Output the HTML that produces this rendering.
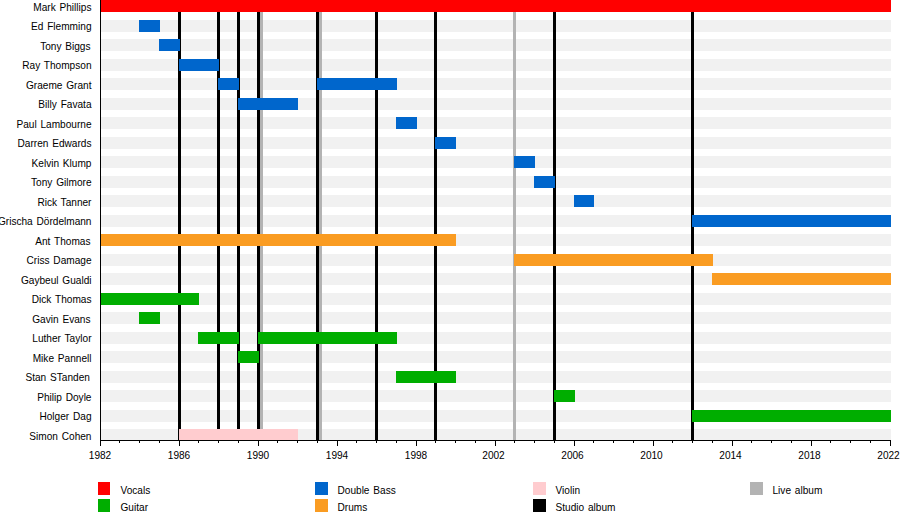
<!DOCTYPE html><html><head><meta charset="utf-8"><style>html,body{margin:0;padding:0;background:#fff;width:900px;height:530px;overflow:hidden}svg{display:block}text{font-family:"Liberation Sans",sans-serif;fill:#000;word-spacing:1px}</style></head><body>
<svg width="900" height="530" viewBox="0 0 900 530">
<rect width="900" height="530" fill="#fff"/>
<rect x="100" y="0" width="791" height="12" fill="#f1f1f1"/>
<rect x="100" y="20" width="791" height="12" fill="#f1f1f1"/>
<rect x="100" y="39" width="791" height="12" fill="#f1f1f1"/>
<rect x="100" y="59" width="791" height="12" fill="#f1f1f1"/>
<rect x="100" y="78" width="791" height="12" fill="#f1f1f1"/>
<rect x="100" y="98" width="791" height="12" fill="#f1f1f1"/>
<rect x="100" y="117" width="791" height="12" fill="#f1f1f1"/>
<rect x="100" y="137" width="791" height="12" fill="#f1f1f1"/>
<rect x="100" y="156" width="791" height="12" fill="#f1f1f1"/>
<rect x="100" y="176" width="791" height="12" fill="#f1f1f1"/>
<rect x="100" y="195" width="791" height="12" fill="#f1f1f1"/>
<rect x="100" y="215" width="791" height="12" fill="#f1f1f1"/>
<rect x="100" y="234" width="791" height="12" fill="#f1f1f1"/>
<rect x="100" y="254" width="791" height="12" fill="#f1f1f1"/>
<rect x="100" y="273" width="791" height="12" fill="#f1f1f1"/>
<rect x="100" y="293" width="791" height="12" fill="#f1f1f1"/>
<rect x="100" y="312" width="791" height="12" fill="#f1f1f1"/>
<rect x="100" y="332" width="791" height="12" fill="#f1f1f1"/>
<rect x="100" y="351" width="791" height="12" fill="#f1f1f1"/>
<rect x="100" y="371" width="791" height="12" fill="#f1f1f1"/>
<rect x="100" y="390" width="791" height="12" fill="#f1f1f1"/>
<rect x="100" y="410" width="791" height="12" fill="#f1f1f1"/>
<rect x="100" y="429" width="791" height="12" fill="#f1f1f1"/>
<rect x="178" y="0" width="3" height="440" fill="#000"/>
<rect x="217" y="0" width="3" height="440" fill="#000"/>
<rect x="237" y="0" width="3" height="440" fill="#000"/>
<rect x="257" y="0" width="3" height="440" fill="#000"/>
<rect x="316" y="0" width="3" height="440" fill="#000"/>
<rect x="375" y="0" width="3" height="440" fill="#000"/>
<rect x="434" y="0" width="3" height="440" fill="#000"/>
<rect x="553" y="0" width="3" height="440" fill="#000"/>
<rect x="691" y="0" width="3" height="440" fill="#000"/>
<rect x="260" y="0" width="3" height="440" fill="#b3b3b3"/>
<rect x="319" y="0" width="3" height="440" fill="#b3b3b3"/>
<rect x="513" y="0" width="3" height="440" fill="#b3b3b3"/>
<rect x="100" y="0" width="791" height="12" fill="#ff0000"/>
<rect x="139" y="20" width="21" height="12" fill="#0066cc"/>
<rect x="159" y="39" width="21" height="12" fill="#0066cc"/>
<rect x="179" y="59" width="40" height="12" fill="#0066cc"/>
<rect x="218" y="78" width="21" height="12" fill="#0066cc"/>
<rect x="317" y="78" width="80" height="12" fill="#0066cc"/>
<rect x="238" y="98" width="60" height="12" fill="#0066cc"/>
<rect x="396" y="117" width="21" height="12" fill="#0066cc"/>
<rect x="435" y="137" width="21" height="12" fill="#0066cc"/>
<rect x="514" y="156" width="21" height="12" fill="#0066cc"/>
<rect x="534" y="176" width="21" height="12" fill="#0066cc"/>
<rect x="574" y="195" width="20" height="12" fill="#0066cc"/>
<rect x="692" y="215" width="199" height="12" fill="#0066cc"/>
<rect x="100" y="234" width="356" height="12" fill="#fa9c22"/>
<rect x="514" y="254" width="199" height="12" fill="#fa9c22"/>
<rect x="712" y="273" width="179" height="12" fill="#fa9c22"/>
<rect x="100" y="293" width="99" height="12" fill="#00ae00"/>
<rect x="139" y="312" width="21" height="12" fill="#00ae00"/>
<rect x="198" y="332" width="41" height="12" fill="#00ae00"/>
<rect x="258" y="332" width="139" height="12" fill="#00ae00"/>
<rect x="238" y="351" width="21" height="12" fill="#00ae00"/>
<rect x="396" y="371" width="60" height="12" fill="#00ae00"/>
<rect x="554" y="390" width="21" height="12" fill="#00ae00"/>
<rect x="692" y="410" width="199" height="12" fill="#00ae00"/>
<rect x="179" y="429" width="119" height="12" fill="#ffcccf"/>
<text x="91.5" y="10.80" font-size="10.1" text-anchor="end">Mark Phillips</text>
<text x="91.5" y="30.30" font-size="10.1" text-anchor="end">Ed Flemming</text>
<text x="90.5" y="49.80" font-size="10.1" text-anchor="end">Tony Biggs</text>
<text x="91.5" y="69.30" font-size="10.1" text-anchor="end">Ray Thompson</text>
<text x="91.5" y="88.80" font-size="10.1" text-anchor="end">Graeme Grant</text>
<text x="91.5" y="108.30" font-size="10.1" text-anchor="end">Billy Favata</text>
<text x="91.5" y="127.80" font-size="10.1" text-anchor="end">Paul Lambourne</text>
<text x="91.5" y="147.30" font-size="10.1" text-anchor="end">Darren Edwards</text>
<text x="91.5" y="166.80" font-size="10.1" text-anchor="end">Kelvin Klump</text>
<text x="91.5" y="186.30" font-size="10.1" text-anchor="end">Tony Gilmore</text>
<text x="91.5" y="205.80" font-size="10.1" text-anchor="end">Rick Tanner</text>
<text x="91.5" y="225.30" font-size="10.1" text-anchor="end">Grischa Dördelmann</text>
<text x="90.5" y="244.80" font-size="10.1" text-anchor="end">Ant Thomas</text>
<text x="91.5" y="264.30" font-size="10.1" text-anchor="end">Criss Damage</text>
<text x="91.5" y="283.80" font-size="10.1" text-anchor="end">Gaybeul Gualdi</text>
<text x="91.5" y="303.30" font-size="10.1" text-anchor="end">Dick Thomas</text>
<text x="90.5" y="322.80" font-size="10.1" text-anchor="end">Gavin Evans</text>
<text x="91.5" y="342.30" font-size="10.1" text-anchor="end">Luther Taylor</text>
<text x="91.5" y="361.80" font-size="10.1" text-anchor="end">Mike Pannell</text>
<text x="89.9" y="381.30" font-size="10.1" text-anchor="end">Stan STanden</text>
<text x="91.5" y="400.80" font-size="10.1" text-anchor="end">Philip Doyle</text>
<text x="91.5" y="420.30" font-size="10.1" text-anchor="end">Holger Dag</text>
<text x="91.5" y="439.80" font-size="10.1" text-anchor="end">Simon Cohen</text>
<rect x="100" y="0" width="1" height="441" fill="#000"/>
<rect x="100" y="440" width="791" height="1" fill="#000"/>
<rect x="100" y="440" width="1" height="6" fill="#000"/>
<text x="100.00" y="458.7" font-size="10.1" text-anchor="middle">1982</text>
<rect x="119" y="440" width="1" height="3" fill="#000"/>
<rect x="139" y="440" width="1" height="3" fill="#000"/>
<rect x="159" y="440" width="1" height="3" fill="#000"/>
<rect x="179" y="440" width="1" height="6" fill="#000"/>
<text x="179.00" y="458.7" font-size="10.1" text-anchor="middle">1986</text>
<rect x="198" y="440" width="1" height="3" fill="#000"/>
<rect x="218" y="440" width="1" height="3" fill="#000"/>
<rect x="238" y="440" width="1" height="3" fill="#000"/>
<rect x="258" y="440" width="1" height="6" fill="#000"/>
<text x="258.00" y="458.7" font-size="10.1" text-anchor="middle">1990</text>
<rect x="277" y="440" width="1" height="3" fill="#000"/>
<rect x="297" y="440" width="1" height="3" fill="#000"/>
<rect x="317" y="440" width="1" height="3" fill="#000"/>
<rect x="337" y="440" width="1" height="6" fill="#000"/>
<text x="337.00" y="458.7" font-size="10.1" text-anchor="middle">1994</text>
<rect x="356" y="440" width="1" height="3" fill="#000"/>
<rect x="376" y="440" width="1" height="3" fill="#000"/>
<rect x="396" y="440" width="1" height="3" fill="#000"/>
<rect x="416" y="440" width="1" height="6" fill="#000"/>
<text x="416.00" y="458.7" font-size="10.1" text-anchor="middle">1998</text>
<rect x="435" y="440" width="1" height="3" fill="#000"/>
<rect x="455" y="440" width="1" height="3" fill="#000"/>
<rect x="475" y="440" width="1" height="3" fill="#000"/>
<rect x="495" y="440" width="1" height="6" fill="#000"/>
<text x="493.50" y="458.7" font-size="10.1" text-anchor="middle">2002</text>
<rect x="514" y="440" width="1" height="3" fill="#000"/>
<rect x="534" y="440" width="1" height="3" fill="#000"/>
<rect x="554" y="440" width="1" height="3" fill="#000"/>
<rect x="574" y="440" width="1" height="6" fill="#000"/>
<text x="572.50" y="458.7" font-size="10.1" text-anchor="middle">2006</text>
<rect x="593" y="440" width="1" height="3" fill="#000"/>
<rect x="613" y="440" width="1" height="3" fill="#000"/>
<rect x="633" y="440" width="1" height="3" fill="#000"/>
<rect x="653" y="440" width="1" height="6" fill="#000"/>
<text x="651.50" y="458.7" font-size="10.1" text-anchor="middle">2010</text>
<rect x="672" y="440" width="1" height="3" fill="#000"/>
<rect x="692" y="440" width="1" height="3" fill="#000"/>
<rect x="712" y="440" width="1" height="3" fill="#000"/>
<rect x="732" y="440" width="1" height="6" fill="#000"/>
<text x="730.50" y="458.7" font-size="10.1" text-anchor="middle">2014</text>
<rect x="751" y="440" width="1" height="3" fill="#000"/>
<rect x="771" y="440" width="1" height="3" fill="#000"/>
<rect x="791" y="440" width="1" height="3" fill="#000"/>
<rect x="811" y="440" width="1" height="6" fill="#000"/>
<text x="809.50" y="458.7" font-size="10.1" text-anchor="middle">2018</text>
<rect x="830" y="440" width="1" height="3" fill="#000"/>
<rect x="850" y="440" width="1" height="3" fill="#000"/>
<rect x="870" y="440" width="1" height="3" fill="#000"/>
<rect x="890" y="440" width="1" height="6" fill="#000"/>
<text x="888.50" y="458.7" font-size="10.1" text-anchor="middle">2022</text>
<rect x="98" y="482" width="12" height="13" fill="#ff0000"/>
<text x="120.5" y="493.9" font-size="10.1">Vocals</text>
<rect x="98" y="499" width="12" height="13" fill="#00ae00"/>
<text x="120.5" y="510.9" font-size="10.1">Guitar</text>
<rect x="315" y="482" width="13" height="13" fill="#0066cc"/>
<text x="337.5" y="493.9" font-size="10.1">Double Bass</text>
<rect x="315" y="499" width="13" height="13" fill="#fa9c22"/>
<text x="337.5" y="510.9" font-size="10.1">Drums</text>
<rect x="533" y="482" width="13" height="13" fill="#ffcccf"/>
<text x="555.5" y="493.9" font-size="10.1">Violin</text>
<rect x="533" y="499" width="13" height="13" fill="#000"/>
<text x="555.5" y="510.9" font-size="10.1">Studio album</text>
<rect x="750" y="482" width="13" height="13" fill="#b3b3b3"/>
<text x="772.5" y="493.9" font-size="10.1">Live album</text>
</svg></body></html>
